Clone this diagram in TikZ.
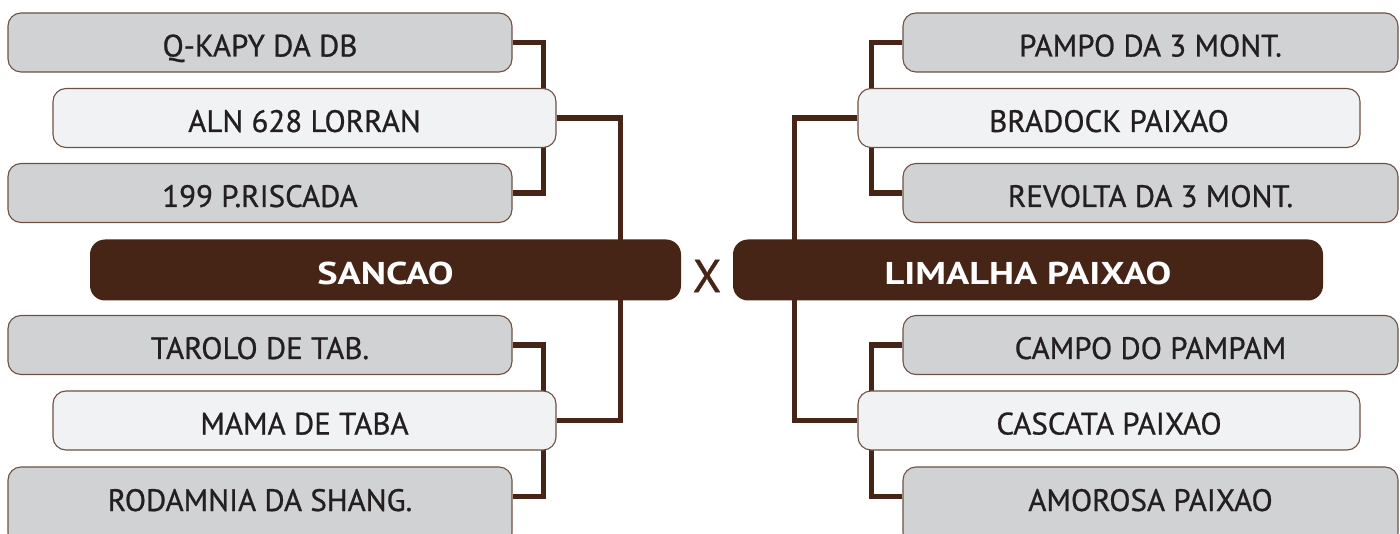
\documentclass[tikz,border=0pt]{standalone}
\usepackage{fontspec}
\setmainfont{PT Sans}[BoldFeatures={FakeStretch=1.22}]
\newfontfamily\medfont{PT Sans}[FakeBold=0.8]
\usetikzlibrary{calc}
\definecolor{dbrown}{HTML}{472516}
\definecolor{bline}{HTML}{6E5142}
\definecolor{gfill}{HTML}{D1D2D4}
\definecolor{lfill}{HTML}{F1F2F4}
\definecolor{tcol}{HTML}{231F20}
\pgfdeclarelayer{bg}
\pgfsetlayers{bg,main}
\begin{document}
\begin{tikzpicture}[x=1pt,y=-1pt,
  box/.style={draw=bline, line width=1.1pt, rounded corners=13pt, inner sep=0pt,
    text=tcol, font=\medfont\fontsize{31}{31}\selectfont, text height=28pt, text depth=0pt,
    minimum height=59pt},
  gbox/.style={box, fill=gfill},
  lbox/.style={box, fill=lfill},
  lw/.style={minimum width=504pt},
  lwl/.style={minimum width=503pt},
  rw/.style={minimum width=495pt},
  rwl/.style={minimum width=502pt},
  cutbox/.style={minimum height=79pt, text height=22pt, text depth=13pt},
  mbox/.style={fill=dbrown, rounded corners=15pt, inner sep=0pt, text=white,
    font=\fontsize{31.5}{31.5}\selectfont\bfseries, text height=29pt, text depth=0pt,
    minimum height=61pt},
  conn/.style={draw=dbrown, line width=5.5pt}]
\useasboundingbox (0,0) rectangle (1400,534);
% left side
\node[gbox, lw]  (qkapy)    at (260,42.5)  {Q-KAPY DA DB};
\node[lbox, lwl] (aln)      at (304.5,118) {ALN 628 LORRAN};
\node[gbox, lw]  (riscada)  at (260,193)   {199 P.RISCADA};
\node[mbox, minimum width=591pt] (sancao) at (385.5,270) {SANCAO};
\node[gbox, lw]  (tarolo)   at (260,345)   {TAROLO DE TAB.};
\node[lbox, lwl] (mama)     at (304.5,420.5) {MAMA DE TABA};
\node[gbox, lw, cutbox] (rodamnia) at (260,506.5) {RODAMNIA DA SHANG.};
% right side
\node[gbox, rw]  (pampo)    at (1150.5,42.5) {PAMPO DA 3 MONT.};
\node[lbox, rwl] (bradock)  at (1109,118)    {BRADOCK PAIXAO};
\node[gbox, rw]  (revolta)  at (1150.5,193)  {REVOLTA DA 3 MONT.};
\node[mbox, minimum width=590pt] (limalha) at (1028,270) {LIMALHA PAIXAO};
\node[gbox, rw]  (campo)    at (1150.5,345)  {CAMPO DO PAMPAM};
\node[lbox, rwl] (cascata)  at (1109,420.5)  {CASCATA PAIXAO};
\node[gbox, rw, cutbox] (amorosa) at (1150.5,506.5) {AMOROSA PAIXAO};
% separator
\node[text=dbrown, font=\medfont\fontsize{46}{46}\selectfont, inner sep=0pt] (vs) at (707,276) {X};
% connector end points on the clipped bottom boxes
\coordinate (rodR) at ($(rodamnia.north east)+(0,30)$);
\coordinate (amoL) at ($(amorosa.north west)+(0,30)$);
\begin{pgfonlayer}{bg}
\fill[white] (0,0) rectangle (1400,534);
\draw[conn] (qkapy.east) -- ++(31,0) |- (riscada.east);
\draw[conn] (aln.east) -- ++(64,0) |- (mama.east);
\draw[conn] (tarolo.east) -- ++(31,0) |- (rodR);
\draw[conn] (pampo.west) -- ++(-31,0) |- (revolta.west);
\draw[conn] (bradock.west) -- ++(-63,0) |- (cascata.west);
\draw[conn] (campo.west) -- ++(-31,0) |- (amoL);
\end{pgfonlayer}
\end{tikzpicture}
\end{document}
